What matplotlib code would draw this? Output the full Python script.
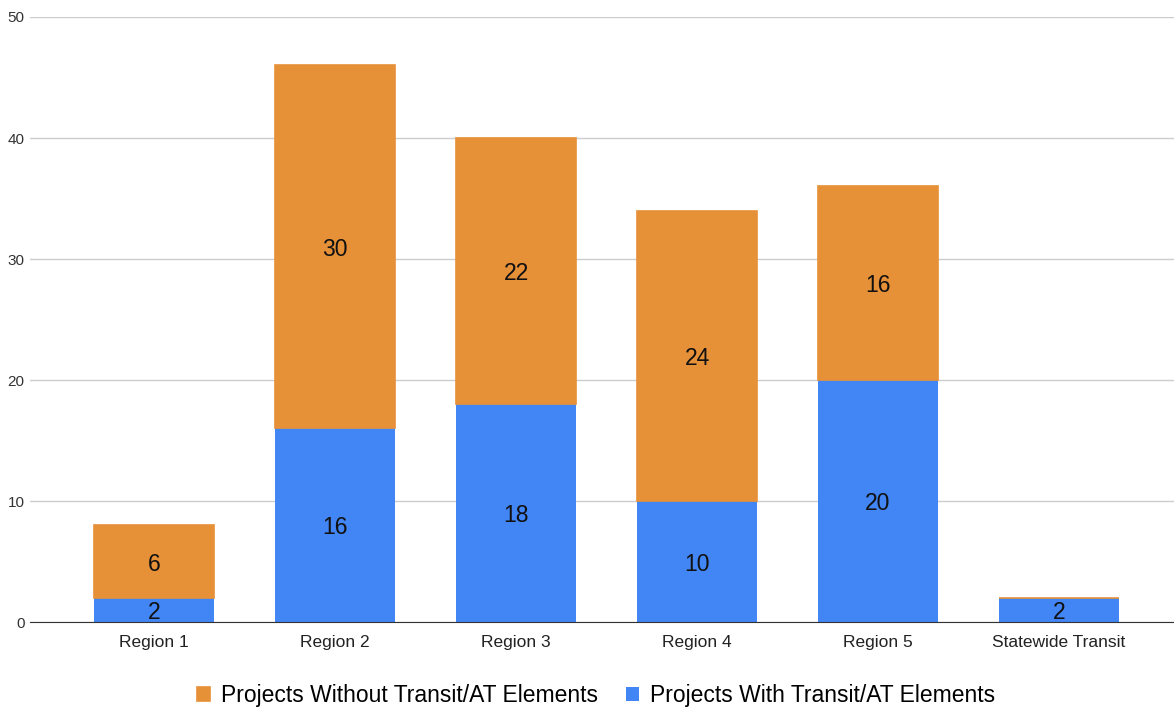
import matplotlib.pyplot as plt
import numpy as np

categories = ["Region 1", "Region 2", "Region 3", "Region 4", "Region 5", "Statewide Transit"]
with_transit = [2, 16, 18, 10, 20, 2]
without_transit = [6, 30, 22, 24, 16, 0]

plt.rcParams['font.family'] = ['Liberation Sans', 'DejaVu Sans']

orange = "#E69138"
blue = "#4285F4"

fig = plt.figure(figsize=(11.74, 7.07), dpi=100)
ax = fig.add_axes([0.0256, 0.12, 0.9744, 0.856])

x = np.arange(len(categories))
w = 0.66
b1 = ax.bar(x, with_transit, w, color=blue, zorder=2, label="Projects With Transit/AT Elements")
b2 = ax.bar(x, without_transit, w, bottom=with_transit, color=orange, zorder=3,
            edgecolor=orange, linewidth=1.2, label="Projects Without Transit/AT Elements")

# value labels in the middle of each segment
for i in range(len(categories)):
    if with_transit[i] > 0:
        ax.text(x[i], with_transit[i] / 2 - 0.2, str(with_transit[i]), ha="center", va="center",
                fontsize=16.5, color="#111111", zorder=4)
    if without_transit[i] > 0:
        ax.text(x[i], with_transit[i] + without_transit[i] / 2 - 0.2, str(without_transit[i]),
                ha="center", va="center", fontsize=16.5, color="#111111", zorder=4)

ax.set_ylim(0, 50)
ax.set_yticks([0, 10, 20, 30, 40, 50])
ax.set_xlim(-0.685, 5.635)
ax.set_xticks(x)
ax.set_xticklabels(categories, fontsize=12.5, color="#222222")
ax.tick_params(axis="y", labelsize=11, colors="#333333", length=0, pad=4)
ax.tick_params(axis="x", length=0, pad=9)
ax.grid(axis="y", color="#cccccc", linewidth=1, zorder=0)
for s in ["top", "right", "left"]:
    ax.spines[s].set_visible(False)
ax.spines["bottom"].set_color("#333333")
ax.spines["bottom"].set_zorder(5)

handles = [b2, b1]
ax.legend(handles, [h.get_label() for h in handles], loc="upper center",
          bbox_to_anchor=(0.495, -0.068), ncol=2, frameon=False, fontsize=16.5,
          handlelength=0.55, handleheight=0.55, handletextpad=0.5, columnspacing=1.2)

fig.savefig("out.png", dpi=100)
